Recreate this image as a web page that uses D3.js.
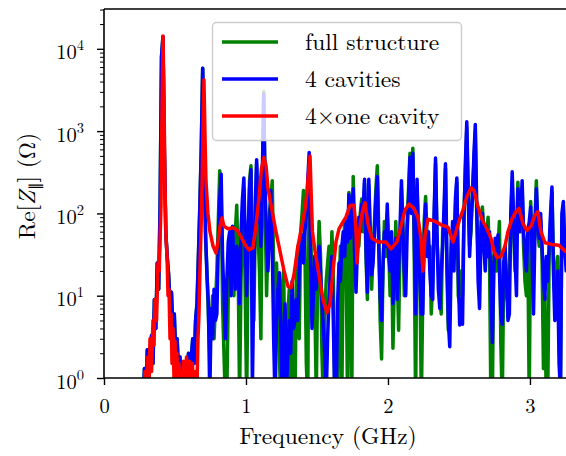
<!DOCTYPE html>
<html>
<head>
<meta charset="utf-8">
<script src="https://cdn.jsdelivr.net/npm/d3@7"></script>
<style>
  body { margin: 0; background: #fff; }
</style>
</head>
<body>
<div id="chart"></div>
<script>
// frequency sweep of the two simulations (GHz), uniform sampling
const fStart = 0.245, fStep = 0.01;

// Re[Z] (Ohm) for "4 cavities"
const blueVals = [
  0.3,0.3,0.3,0.5,1.3,0.6,2.2,1,2,3.3,
  1.5,9,4,25,12,120,8000,14000,600,60,
  30,18,8,11,4,6,2,3,1.2,1.8,
  0.6,1.2,0.5,1.5,0.6,2,0.8,1.8,3,1.5,
  5,8,30,120,600,5800,800,60,18,8,
  0.6,7,3,12,5,6,40,150,300,30,
  10,3,15,45,60,10,70,25,12,40,
  25,8,60,150,270,40,10,60,200,340,
  0.7,15,120,450,80,150,40,300,2800,200,
  50,20,60,190,40,3,0.5,5,12,19,
  4,0.6,3,8,0.7,2,5,2,15,4,
  5,9,5,20,35,55,25,60,100,250,
  550,30,4,10,30,12,25,40,20,8,
  4,2,0.6,3,10,18,30,5,0.6,0.5,
  8,25,15,40,60,30,80,45,170,50,
  100,200,30,11,40,90,60,130,110,260,
  40,11,260,60,18,25,60,150,280,40,
  10,5,25,60,40,130,30,20,60,8,
  30,50,9,20,70,250,60,20,10,60,
  150,480,100,540,60,6,260,40,15,6,
  6,50,130,30,60,20,10,9,100,470,
  60,12,7,20,40,120,400,30,5,2.4,
  30,80,20,150,270,20,4.4,9,4.5,80,
  400,1300,200,30,80,150,500,1200,120,15,
  7,60,100,40,20,70,30,60,15,2.7,
  20,50,30,55,20,6,4.5,25,40,15,
  5,6,100,320,80,30,10,200,60,100,
  250,60,30,20,60,80,120,30,6,60,
  200,80,50,100,40,15,9,30,15,40,
  100,210,20,5,8,20,1.5,0.7,100,140,
  40,20,60,100,30,50
];

// Re[Z] (Ohm) for "full structure"
const greenVals = [
  0.3,0.3,0.3,0.5,1.3,0.6,2.2,1,2,3.3,
  1.5,9,4,25,12,120,8000,14000,600,60,
  30,18,8,11,4,6,2,3,1.2,1.8,
  0.6,1.2,0.5,1.5,0.6,2,0.8,1.8,3,1.5,
  5,8,30,120,600,5800,700,50,20,6,
  2,5,10,3,8,20,80,330,200,8,
  2,0.5,0.6,10,40,15,30,10,60,126,
  20,0.6,15,80,200,10,0.5,40,250,380,
  30,5,60,400,60,20,3,200,3000,120,
  10,50,100,150,250,20,2,25,8,2,
  0.5,12,20,1.5,0.5,6,12,0.6,4,8,
  0.5,20,40,3,60,100,190,40,1.5,0.5,
  400,60,15,30,8,0.6,20,80,30,2,
  0.5,6,15,25,40,10,60,20,0.5,2,
  0.5,10,40,0.6,30,80,40,0.5,180,20,
  0.5,280,60,20,60,40,100,150,60,230,
  30,9,220,40,12,35,80,200,380,60,
  5,1.7,20,80,30,100,40,10,40,2.3,
  15,80,20,3.8,40,200,80,10,30,80,
  200,540,150,620,30,0.5,200,60,20,0.5,
  10,80,160,50,30,40,6,15,80,400,
  50,20,10,6,60,80,350,20,3.8,8,
  50,60,40,120,240,10,8,20,10,100,
  300,1100,150,40,60,200,400,1000,100,30,
  20,80,120,60,30,50,90,30,0.5,0.5,
  30,40,20,40,80,2.6,0.5,20,30,10,
  8,20,80,250,60,20,60,240,80,60,
  200,40,15,10,40,0.5,140,30,20,80,
  250,60,40,80,30,1.3,10,0.5,0.5,30,
  80,180,30,10,20,30,3,1,80,120,
  30,40,50,80,20,40
];

// "4 x one cavity" (GHz, Ohm)
const redFreq = [
  0.275,0.289,0.296,0.306,0.317,0.324,0.335,0.345,0.352,0.359,
  0.370,0.380,0.389,0.401,0.408,0.4155,0.423,0.430,0.437,0.444,
  0.451,0.458,0.465,0.472,0.479,0.486,0.493,0.500,0.507,0.514,
  0.521,0.528,0.535,0.542,0.549,0.560,0.570,0.581,0.592,0.602,
  0.613,0.623,0.634,0.644,0.655,0.662,0.669,0.676,0.683,0.690,
  0.697,0.704,0.711,0.718,0.732,0.746,0.768,0.789,0.803,0.817,
  0.831,0.845,0.873,0.908,0.937,0.965,0.993,1.021,1.049,1.070,
  1.092,1.109,1.127,1.141,1.155,1.183,1.211,1.239,1.268,1.296,
  1.317,1.338,1.366,1.394,1.415,1.430,1.444,1.451,1.458,1.468,
  1.486,1.514,1.542,1.570,1.592,1.613,1.634,1.655,1.676,1.704,
  1.732,1.761,1.775,1.782,1.796,1.817,1.838,1.859,1.887,1.930,
  1.986,2.021,2.063,2.092,2.120,2.148,2.183,2.211,2.232,2.246,
  2.261,2.282,2.331,2.380,2.423,2.458,2.479,2.500,2.528,2.556,
  2.585,2.606,2.634,2.662,2.697,2.725,2.746,2.768,2.796,2.824,
  2.845,2.873,2.901,2.923,2.951,2.979,3.007,3.035,3.056,3.077,
  3.106,3.155,3.204,3.246,3.303
];
const redVals = [
  0.3,1.2,0.5,1.8,0.8,3,1.2,5,2.5,9,
  5,25,20,120,1500,14300,2000,200,50,30,
  10,12,3,6,1.5,4,1,2.8,0.8,2,
  0.6,1.5,0.5,1.2,0.4,1.6,0.5,1.8,0.5,1.6,
  0.5,1.5,0.4,1.2,0.8,3,6,22,60,200,
  900,4200,900,250,100,60,40,33,45,70,
  88,70,65,67,63,52,42,36,38,70,
  160,350,480,380,200,110,60,35,20,13,
  12.5,18,40,70,110,180,380,500,200,60,
  35,18,9,6.2,8,20,45,65,75,90,
  125,126,60,25,55,100,135,75,50,45,
  45,37,45,70,110,130,115,90,50,20,
  55,85,80,72,68,45,60,80,110,160,
  205,190,120,85,65,50,35,29,30,40,
  60,85,105,115,75,62,70,95,105,60,
  44,42,41,35,30
];

const xTicks = [0, 1, 2, 3];
const yMajor = [1, 10, 100, 1000, 10000];
const legendLabels = ["full structure", "4 cavities", "4\u00d7one cavity"];
const colors = ["#008000", "#0000ff", "#ff0000"];

const FONT = '"Latin Modern Roman", "Liberation Serif", serif';
const LW = 3.5;

const freqs = blueVals.map((v, i) => fStart + i * fStep);
const series = [
  freqs.map((f, i) => [f, greenVals[i]]),
  freqs.map((f, i) => [f, blueVals[i]]),
  redFreq.map((f, i) => [f, redVals[i]])
];

const W = 566, H = 456;
const pLeft = 104, pTop = 9, pBottom = 378, pRight = 570;

const x = d3.scaleLinear().domain([0, 3.282]).range([pLeft, pRight]);
const y = d3.scaleLog().domain([1, Math.pow(10, 4.484)]).range([pBottom, pTop]);

const svg = d3.select("#chart").append("svg")
  .attr("width", W).attr("height", H)
  .style("font-family", FONT);

svg.append("clipPath").attr("id", "plotclip")
  .append("rect")
  .attr("x", pLeft).attr("y", pTop)
  .attr("width", pRight - pLeft).attr("height", pBottom - pTop);

const line = d3.line().x(d => x(d[0])).y(d => y(d[1]));

svg.append("g").attr("clip-path", "url(#plotclip)")
  .selectAll("path")
  .data(series)
  .enter()
  .append("path")
  .attr("d", d => line(d))
  .attr("fill", "none")
  .attr("stroke", (d, i) => colors[i])
  .attr("stroke-width", LW)
  .attr("stroke-linejoin", "round")
  .attr("stroke-linecap", "round");

// x axis
const gx = svg.append("g")
  .attr("transform", "translate(0," + pBottom + ")")
  .call(d3.axisBottom(x).tickValues(xTicks).tickSize(7).tickFormat(d => d));
gx.select(".domain").remove();
gx.selectAll("line").attr("stroke-width", 1.4);
gx.selectAll("text")
  .attr("y", 35).attr("dy", null)
  .style("font-family", FONT)
  .style("font-size", "20.5px");

// y axis, minor ticks
const yMinor = [];
yMajor.forEach(m => {
  for (let k = 2; k <= 9; k++) {
    if (m * k < y.domain()[1]) yMinor.push(m * k);
  }
});
const gyMin = svg.append("g")
  .attr("transform", "translate(" + pLeft + ",0)")
  .call(d3.axisLeft(y).tickValues(yMinor).tickSize(4).tickFormat(""));
gyMin.select(".domain").remove();
gyMin.selectAll("line").attr("stroke-width", 1);

const gy = svg.append("g")
  .attr("transform", "translate(" + pLeft + ",0)")
  .call(d3.axisLeft(y).tickValues(yMajor).tickSize(7).tickFormat(""));
gy.select(".domain").remove();
gy.selectAll("line").attr("stroke-width", 1.4);

const yl = svg.append("g").selectAll("text")
  .data(yMajor)
  .enter()
  .append("text")
  .attr("x", 84)
  .attr("y", d => y(d) + 10.5)
  .attr("text-anchor", "end")
  .style("font-size", "20.5px");
yl.append("tspan").text("10");
yl.append("tspan").attr("dy", -9).style("font-size", "14.5px").text(d => Math.round(Math.log10(d)));

// spines
svg.append("line").attr("x1", pLeft).attr("x2", pLeft).attr("y1", pTop).attr("y2", pBottom)
  .attr("stroke", "#000").attr("stroke-width", 1.6);
svg.append("line").attr("x1", pLeft).attr("x2", W).attr("y1", pBottom).attr("y2", pBottom)
  .attr("stroke", "#000").attr("stroke-width", 1.6);
svg.append("line").attr("x1", pLeft).attr("x2", W).attr("y1", pTop).attr("y2", pTop)
  .attr("stroke", "#000").attr("stroke-width", 1.6);

// axis labels
svg.append("text")
  .attr("x", 328).attr("y", 444)
  .attr("text-anchor", "middle")
  .style("font-size", "23.5px")
  .text("Frequency (GHz)");

const ylab = svg.append("text")
  .attr("transform", "translate(35,186) rotate(-90)")
  .attr("text-anchor", "middle")
  .style("font-size", "23.5px");
ylab.append("tspan").text("Re[");
ylab.append("tspan").style("font-style", "italic").text("Z");
ylab.append("tspan").attr("dy", 5).style("font-size", "15px").text("\u2225");
ylab.append("tspan").attr("dy", -5).text("] (\u03a9)");

// legend
const lg = svg.append("g");
lg.append("rect")
  .attr("x", 212.5).attr("y", 22.5)
  .attr("width", 249).attr("height", 118)
  .attr("rx", 4)
  .attr("fill", "#fff").attr("fill-opacity", 0.8)
  .attr("stroke", "#cccccc").attr("stroke-width", 1.4);
const items = lg.selectAll("g.item")
  .data(legendLabels)
  .enter()
  .append("g")
  .attr("class", "item")
  .attr("transform", (d, i) => "translate(0," + (42 + i * 37) + ")");
items.append("line")
  .attr("x1", 222).attr("x2", 278)
  .attr("stroke", (d, i) => colors[i])
  .attr("stroke-width", LW);
items.append("text")
  .attr("x", 305)
  .attr("y", 8)
  .style("font-size", "23.5px")
  .text(d => d);
</script>
</body>
</html>
